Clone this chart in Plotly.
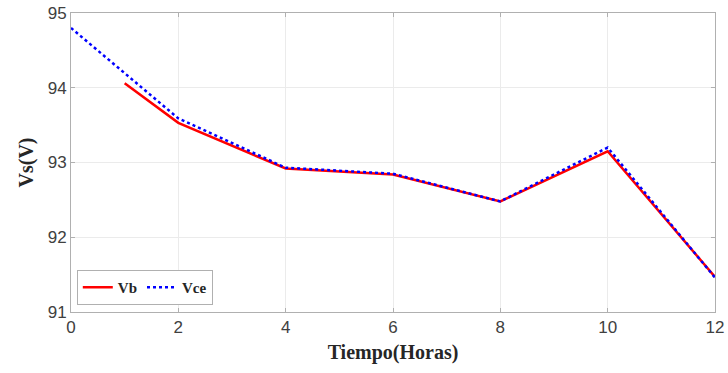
import plotly.graph_objects as go

hours_vb = [1, 2, 4, 6, 8, 10, 12]
vb = [94.06, 93.53, 92.92, 92.84, 92.48, 93.15, 91.47]
hours_vce = [0, 2, 4, 6, 8, 10, 12]
vce = [94.80, 93.59, 92.93, 92.85, 92.48, 93.20, 91.46]
x_ticks = [0, 2, 4, 6, 8, 10, 12]
y_ticks = [91, 92, 93, 94, 95]

fig = go.Figure()
fig.add_trace(go.Scatter(x=hours_vb, y=vb, mode="lines", name="<b>Vb</b>",
                         line=dict(color="#ff0000", width=2.5)))
fig.add_trace(go.Scatter(x=hours_vce, y=vce, mode="lines", name="<b>Vce</b>",
                         line=dict(color="#0000ff", width=2.5, dash="dot")))

axis_common = dict(showline=True, linecolor="#b0b0b0", linewidth=1, mirror="ticks",
                   showgrid=True, gridcolor="#ebebeb", gridwidth=1, zeroline=False,
                   ticks="inside", ticklen=4, tickcolor="#b0b0b0", automargin=False,
                   ticklabeloverflow="allow",
                   tickfont=dict(family="Liberation Sans, Arial", size=17, color="#404040"))

fig.update_layout(
    width=728, height=373,
    margin=dict(l=71, r=13, t=13, b=61),
    plot_bgcolor="white", paper_bgcolor="white",
    xaxis=dict(range=[0, 12], tickvals=x_ticks,
               title=dict(text="<b>Tiempo(Horas)</b>", standoff=8,
                          font=dict(family="Liberation Serif, Times New Roman", size=20, color="#262626")),
               **axis_common),
    yaxis=dict(range=[91, 95], tickvals=y_ticks,
               title=dict(text="<b>Vs(V)</b>", standoff=8,
                          font=dict(family="Liberation Serif, Times New Roman", size=20, color="#262626")),
               **axis_common),
    legend=dict(orientation="h", x=0.009, y=0.023, xanchor="left", yanchor="bottom",
                bgcolor="white", bordercolor="#b0b0b0", borderwidth=1,
                font=dict(family="Liberation Serif, Times New Roman", size=15, color="#262626"),
                itemwidth=30, tracegroupgap=0, entrywidth=0),
    showlegend=True,
)

fig.write_html("out.html", config={"displayModeBar": False},
               post_script="document.body.style.margin='0';document.body.style.overflow='hidden';")
